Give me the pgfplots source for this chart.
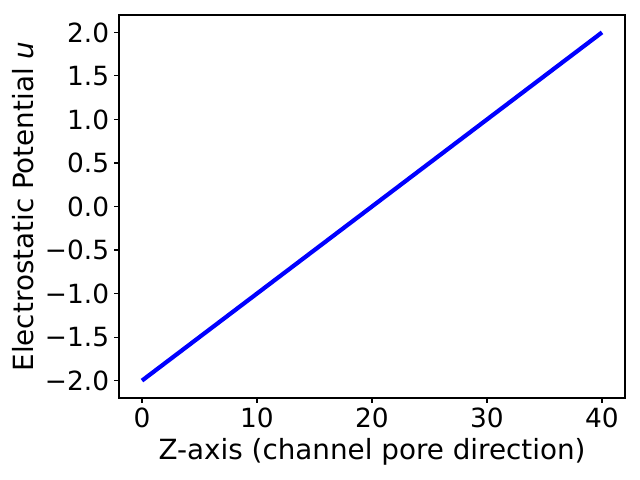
\documentclass[border=0pt]{standalone}
\usepackage{fontspec}
\setmainfont{DejaVu Sans}
\usepackage{pgfplots}
\pgfplotsset{compat=1.18}
\begin{document}
\begin{tikzpicture}
\begin{axis}[
  scale only axis,
  width=506bp, height=383bp,
  xmin=-2, xmax=42, ymin=-2.2, ymax=2.2,
  xtick={0,10,20,30,40},
  xticklabels={0,10,20,30,40},
  ytick={-2,-1.5,-1,-0.5,0,0.5,1,1.5,2},
  yticklabels={−2.0,−1.5,−1.0,−0.5,0.0,0.5,1.0,1.5,2.0},
  tick align=outside,
  tick pos=left,
  major tick length=4.9bp,
  every tick/.style={black, line width=1.1bp},
  axis line style={line width=1.1bp},
  ticklabel style={font=\fontsize{26.4bp}{31bp}\selectfont},
  xticklabel style={yshift=-1bp},
  yticklabel style={xshift=-1.5bp},
  label style={font=\fontsize{27.8bp}{33bp}\selectfont},
  xlabel={Z-axis (channel pore direction)},
  ylabel={Electrostatic Potential \textit{u}},
  xlabel style={yshift=-4bp},
  ylabel style={yshift=4bp},
]
\addplot[blue, line width=4.2bp] coordinates {(0,-2) (40,2)};
\end{axis}
\pgfresetboundingbox
\path[use as bounding box] (-119bp,-82bp) rectangle (521bp,398bp);
\end{tikzpicture}
\end{document}
